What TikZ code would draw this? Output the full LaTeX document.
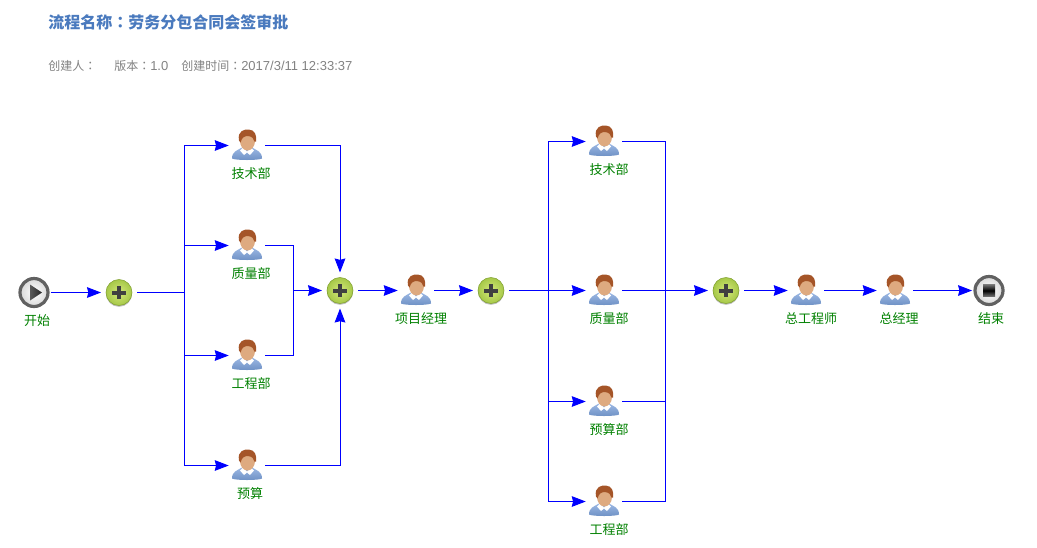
\documentclass[tikz,border=0pt]{standalone}
\usepackage{fontspec}
\usetikzlibrary{arrows.meta, positioning}
\setmainfont{Liberation Sans}
\newfontfamily\cjk{Noto Sans CJK SC}
\newfontfamily\cjkcolon{Noto Sans CJK TC}
\definecolor{flowblue}{RGB}{0,0,255}
\definecolor{titleblue}{RGB}{74,122,190}
\definecolor{metagray}{RGB}{130,130,130}
\definecolor{labelgreen}{RGB}{0,128,0}
\definecolor{skin}{RGB}{222,170,128}
\definecolor{hair}{RGB}{165,85,40}
\definecolor{shirt}{RGB}{122,160,218}
\definecolor{gwlight}{RGB}{212,232,122}
\definecolor{gwdark}{RGB}{166,200,72}
\definecolor{gwedge}{RGB}{128,160,48}
\tikzset{
    person/.style={minimum size=27pt, inner sep=0pt, path picture={
        \begin{scope}[shift={(path picture bounding box.center)}]
        % body
        \shade[top color=shirt!75!white, bottom color=shirt!90!black] (-15,13) .. controls (-15,6) and (-10,5) .. (-5,2) -- (5,2) .. controls (10,5) and (15,6) .. (15,13) .. controls (12,15) and (-12,15) .. (-15,13) -- cycle;
        % collar
        \fill[white] (-7,5) -- (-4,2) -- (0,6) -- (4,2) -- (7,5) -- (3,9.5) -- (0,7) -- (-3,9.5) -- cycle;
        % head
        \fill[skin] (0.5,-4.5) ellipse (7.5 and 9.5);
        \fill[hair] (-8,-5) .. controls (-10,-15) and (-2,-16.5) .. (2,-16) .. controls (8,-15.5) and (10,-10) .. (9,-4) -- (7.5,-4) .. controls (7,-7) and (5,-9) .. (1,-9.5) .. controls (-3,-9.5) and (-5,-8) .. (-6.5,-3) -- cycle;
        \end{scope}
    }},
    gateway/.style={circle, minimum size=19.5pt, inner sep=0pt, outer sep=3.75pt, draw=gwedge, preaction={fill=black!25, transform canvas={yshift=-1pt}}, shade, inner color=gwlight, outer color=gwdark, path picture={
        \fill[black!75] ([xshift=-4.9pt,yshift=-1.5pt]path picture bounding box.center) rectangle ([xshift=4.9pt,yshift=1.5pt]path picture bounding box.center);
        \fill[black!75] ([xshift=-1.5pt,yshift=-4.9pt]path picture bounding box.center) rectangle ([xshift=1.5pt,yshift=4.9pt]path picture bounding box.center);
    }},
    terminal/.style={circle, minimum size=21pt, inner sep=0pt, outer sep=2.2pt, draw=black!62, line width=2.4pt, shade, inner color=white, outer color=black!15},
    flow/.style={flowblue, line width=0.75pt, -{Stealth[length=10.5pt, width=8pt, inset=1pt]}},
    flowline/.style={flowblue, line width=0.75pt},
    lbl/.style={font=\cjk\fontsize{9.75pt}{11pt}\selectfont, text=labelgreen, inner sep=0pt, text height=8pt, text depth=1.5pt},
    meta/.style={anchor=west, inner sep=0pt, text=metagray, font=\fontsize{9.75pt}{11pt}\selectfont}
}
\newcommand{\metacjk}[1]{{\cjk\fontsize{9pt}{11pt}\selectfont #1}}
\newcommand{\metacolon}{{\cjkcolon\fontsize{9pt}{11pt}\selectfont ：}}
\begin{document}
\begin{tikzpicture}[x=0.75pt, y=-0.75pt]
\useasboundingbox (-0.5,-0.5) rectangle (1036.5,546.5);

% Title and info line
\node[anchor=west, inner sep=0pt, text=titleblue, font=\cjk\bfseries\fontsize{12pt}{14pt}\selectfont] (title) at (47.5,21.5) {流程名称{\cjkcolon ：}劳务分包合同会签审批};
\node[meta] (creator) at (47.5,65.5) {\metacjk{创建人}\metacolon};
\node[meta] (version) at (113.5,65.5) {\metacjk{版本}\metacolon 1.0};
\node[meta] (created) at (180.5,65.5) {\metacjk{创建时间}\metacolon 2017/3/11 12:33:37};

% Start and first gateway
\node[terminal] (start) at (33.5,292) {};
\shade[left color=black!65, right color=black!85] (29.5,284) -- (41.5,292) -- (29.5,300) -- cycle;
\node[gateway] (gw1) at (118.5,292) {};

% First parallel block
\node[person] (tech1) at (246.5,145) {};
\node[person] (qual1) at (246.5,245) {};
\node[person] (eng1) at (246.5,355) {};
\node[person] (budg1) at (246.5,465) {};
\node[gateway] (gw2) at (339.5,290) {};
\node[person] (pm) at (415.5,290) {};
\node[gateway] (gw3) at (490.5,290) {};

% Second parallel block
\node[person] (tech2) at (603.5,141) {};
\node[person] (qual2) at (603.5,290) {};
\node[person] (budg2) at (603.5,401) {};
\node[person] (eng2) at (603.5,501) {};
\node[gateway] (gw4) at (725.5,290) {};
\node[person] (chief) at (805.5,290) {};
\node[person] (gm) at (894.5,290) {};
\node[terminal] (end) at (988.5,290) {};
\shade[top color=black!55, bottom color=black!55, middle color=black] (982.5,284) rectangle (994.5,296);

% Labels
\node[lbl] (lstart) at (36.5,321) {开始};
\node[lbl] (ltech1) at (250.5,174) {技术部};
\node[lbl] (lqual1) at (250.5,274) {质量部};
\node[lbl] (leng1) at (250.5,384) {工程部};
\node[lbl] (lbudg1) at (249.5,494) {预算};
\node[lbl] (lpm) at (420.5,319) {项目经理};
\node[lbl] (ltech2) at (608.5,170) {技术部};
\node[lbl] (lqual2) at (608.5,319) {质量部};
\node[lbl] (lbudg2) at (608.5,430) {预算部};
\node[lbl] (leng2) at (608.5,530) {工程部};
\node[lbl] (lchief) at (810.5,319) {总工程师};
\node[lbl] (lgm) at (898.5,319) {总经理};
\node[lbl] (lend) at (990.5,319) {结束};

% Junctions
\coordinate (split1) at (184,292);
\coordinate (merge1) at (293,290);
\coordinate (split2) at (548,290);
\coordinate (merge2) at (665,290);

% Arrows
\foreach \i/\j in {start/gw1, gw2/pm, pm/gw3, gw3/qual2, qual2/gw4, gw4/chief, chief/gm, gm/end}
    \draw[flow] (\i) -- (\j);
\draw[flowline] (gw1) -- (split1);
\foreach \j in {tech1, qual1, eng1, budg1}
    \draw[flow] (split1) |- (\j.west);
\foreach \j in {tech2, budg2, eng2}
    \draw[flow] (split2) |- (\j.west);
\foreach \i in {qual1, eng1}
    \draw[flowline] (\i.east) -| (merge1);
\draw[flow] (merge1) -- (gw2);
\draw[flow] (tech1.east) -| (gw2.north);
\draw[flow] (budg1.east) -| (gw2.south);
\foreach \i in {tech2, budg2, eng2}
    \draw[flowline] (\i.east) -| (merge2);

\end{tikzpicture}
\end{document}
